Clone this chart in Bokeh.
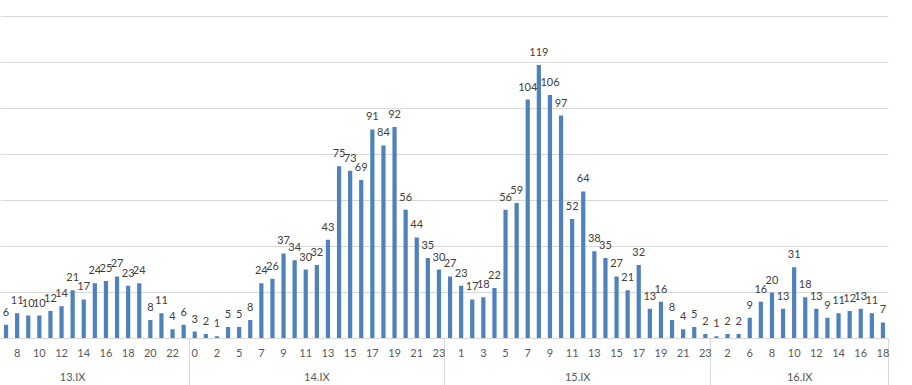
from bokeh.plotting import figure
from bokeh.models import Range1d, FixedTicker, LinearAxis, SingleIntervalTicker, Grid, ColumnDataSource
from bokeh.embed import file_html
from bokeh.resources import INLINE
from bokeh.core.properties import value

# ---- data ----
days = ["13.IX", "14.IX", "15.IX", "16.IX"]
# hours of 13.IX that lie left of the picture's cropped edge (no values visible)
hidden_13 = ["3", "4", "5", "6"]
hours_13 = ["7", "8", "9", "10", "11", "12", "13", "14", "15", "16", "17", "18", "19", "20", "21", "22", "23"]
values_13 = [6, 11, 10, 10, 12, 14, 21, 17, 24, 25, 27, 23, 24, 8, 11, 4, 6]
hours_14 = ["0", "1", "2", "4", "5", "6", "7", "8", "9", "10", "11", "12", "13", "14", "15", "16", "17",
            "18", "19", "20", "21", "22", "23"]
values_14 = [3, 2, 1, 5, 5, 8, 24, 26, 37, 34, 30, 32, 43, 75, 73, 69, 91, 84, 92, 56, 44, 35, 30]
hours_15 = ["0", "1", "2", "3", "4", "5", "6", "7", "8", "9", "10", "11", "12", "13", "14", "15", "16",
            "17", "18", "19", "20", "21", "22", "23"]
values_15 = [27, 23, 17, 18, 22, 56, 59, 104, 119, 106, 97, 52, 64, 38, 35, 27, 21, 32, 13, 16, 8, 4, 5, 2]
hours_16 = ["1", "2", "4", "6", "7", "8", "9", "10", "11", "12", "13", "14", "15", "16", "17", "18"]
values_16 = [1, 2, 2, 9, 16, 20, 13, 31, 18, 13, 9, 11, 12, 13, 11, 7]

day_hours = [hours_13, hours_14, hours_15, hours_16]
day_values = [values_13, values_14, values_15, values_16]

# ---- build positions ----
xs, tops, hour_lab = [], [], []
bounds, centers = [], []
i = 0
for d, (hs, vs) in enumerate(zip(day_hours, day_values)):
    first = i - (len(hidden_13) if d == 0 else 0)
    for h, v in zip(hs, vs):
        xs.append(i)
        tops.append(v)
        hour_lab.append(h)
        i += 1
    last = i - 1
    centers.append((first + last) / 2)
    bounds.append(last + 0.5)

n = len(xs)
src = ColumnDataSource(dict(x=xs, top=tops, lab=[str(v) for v in tops]))

FONT = "Lato"
GRID = "#D9D9D9"

p = figure(width=912, height=385, x_range=Range1d(-0.5, n - 0.5), y_range=Range1d(0, 141),
           output_backend="svg", toolbar_location=None, x_axis_type=None, y_axis_type=None,
           min_border_left=0, min_border_right=24, min_border_top=14, min_border_bottom=47)
p.outline_line_color = None
p.background_fill_color = "white"
p.border_fill_color = "white"

p.add_layout(Grid(dimension=1, ticker=SingleIntervalTicker(interval=20), grid_line_color=GRID))

p.vbar(x="x", top="top", width=0.38, source=src, fill_color="#4F81BD", line_color=None)
p.text(x="x", y="top", text="lab", source=src, text_align="center", text_baseline="alphabetic",
       y_offset=-13, text_font=value(FONT), text_font_size="11px", text_color="#404040")

odd = list(range(1, n, 2))
ax1 = LinearAxis(ticker=FixedTicker(ticks=odd, minor_ticks=bounds),
                 major_label_overrides={k: hour_lab[k] for k in odd})
ax1.axis_line_color = GRID
ax1.major_tick_line_color = None
ax1.major_tick_out = 0
ax1.major_tick_in = 0
ax1.minor_tick_line_color = GRID
ax1.minor_tick_in = -47
ax1.minor_tick_out = 0
ax1.major_label_standoff = 10
ax1.major_label_text_font = FONT
ax1.major_label_text_font_size = "11px"
ax1.major_label_text_color = "#595959"
p.add_layout(ax1, "below")

ax2 = LinearAxis(ticker=FixedTicker(ticks=centers, minor_ticks=[]),
                 major_label_overrides={c: d for c, d in zip(centers, days)})
ax2.axis_line_color = None
ax2.major_tick_line_color = None
ax2.minor_tick_line_color = None
ax2.major_tick_out = 0
ax2.major_tick_in = 0
ax2.major_label_standoff = 10
ax2.major_label_text_font = FONT
ax2.major_label_text_font_size = "11px"
ax2.major_label_text_color = "#595959"
p.add_layout(ax2, "below")

open("out.html", "w").write(file_html(p, INLINE))
